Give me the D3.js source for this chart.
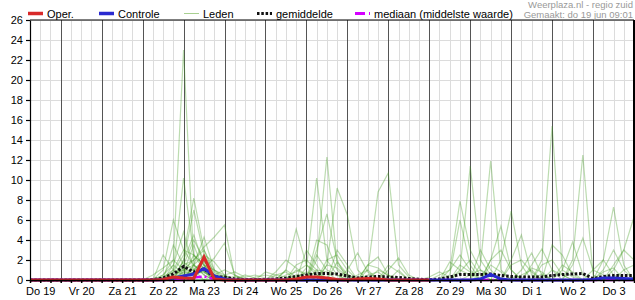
<!DOCTYPE html>
<html>
<head>
<meta charset="utf-8">
<script src="https://cdn.jsdelivr.net/npm/d3@7"></script>
<style>
body { margin: 0; background: #fff; }
svg { display: block; font-family: "Liberation Sans", Arial, sans-serif; }
</style>
</head>
<body>
<svg id="chart" width="635" height="300"></svg>
<script>
// time axis: 6-hourly values, first value Do 19 jun 06:00
const startTime = Date.UTC(2025, 5, 19, 6)
const endTime = Date.UTC(2025, 6, 4, 0)
const stepHours = 6

const dayLabels = ['Do 19', 'Vr 20', 'Za 21', 'Zo 22', 'Ma 23', 'Di 24', 'Wo 25', 'Do 26',
  'Vr 27', 'Za 28', 'Zo 29', 'Ma 30', 'Di 1', 'Wo 2', 'Do 3']
const yTicks = [0, 2, 4, 6, 8, 10, 12, 14, 16, 18, 20, 22, 24, 26]

// operational run (10 days only)
const oper = [0,0,0,0,0,0,0,0,0,0,0,0,0,0.05,0.3,0.2,0.15,2.3,0.1,0,0,0,0,0,0,0,0.1,0.3,0.3,0.2,0.05,0,0.1,0.15,0.1,0,0,0,0,0]
const controle = [0,0,0,0,0,0,0,0,0,0,0,0,0,0.05,0.2,0.4,0.6,1.15,0.4,0.1,0,0,0,0,0,0,0,0,0,0,0,0,0,0,0,0,0,0,0,0,0,0,0,0,0.1,0.55,0.1,0,0,0,0,0,0,0,0,0.05,0.2,0.2,0.15,0.1]
const gemiddelde = [0,0,0,0,0,0,0,0,0,0,0,0,0.05,0.2,0.6,1.35,0.8,1.1,0.3,0.3,0.1,0.05,0.05,0.05,0.1,0.2,0.35,0.5,0.65,0.65,0.6,0.4,0.2,0.3,0.35,0.3,0.25,0.15,0.08,0.03,0.1,0.3,0.55,0.55,0.55,0.6,0.45,0.35,0.3,0.3,0.3,0.45,0.55,0.6,0.65,0.15,0.35,0.45,0.45,0.45]
const mediaan = [0,0,0,0,0,0,0,0,0,0,0,0,0,0,0,0,0.25,0.35,0.1,0,0,0,0,0,0,0,0,0,0,0,0,0,0,0,0,0,0,0,0,0,0,0,0,0,0,0,0,0,0,0,0,0,0,0,0,0,0,0,0,0]

// ensemble members
const lid01 = [0,0,0,0,0,0,0,0,0,0,0,0, 0,0.5,2,23,1.5,0.8,0.2,0,0,0, 0,0,0,0,0.3,0.8,0.5,0.2,0,0,0,0,0,0,0,0,0, 0,0,0,0.8,2,0.5,0,0,0,0,0,0,1,0.5,0,0,0,0,0,0,0]
const lid02 = [0,0,0,0,0,0,0,0,0,0,0,0, 0,0.3,1,10.2,2.5,1.5,0.3,0,0,0, 0,0,0,0,0,1.2,10.2,2,0.5,0,0,0,0,0,0,0,0, 0,0,0,0,0,0,1.5,0.8,0,0,0,0.6,0,0,0,0,0,0,0,0,0]
const lid03 = [0,0,0,0,0,0,0,0,0,0,0,0, 0,0,0.8,2.5,8.2,3,0.5,0,0,0, 0,0,0,0,0,0,2,12.3,1.5,0.5,0,0,0,0,0,0,0, 0,0,0,0,0,0,0,0,0,0,0,2,15.4,1,0.3,0,0,0,0,0,0]
const lid04 = [0,0,0,0,0,0,0,0,0,0,0,0, 0,0,0,1,2,3.3,4.3,5.5,0.3,0, 0,0,0,0,0,0,0,1.5,9.2,6.5,1,0,0,0,0,0,0, 0,0,0,0,0,0,0,0,0,0,0,0,0,0,0,0,0,0.8,1.2,0,0]
const lid05 = [0,0,0,0,0,0,0,0,0,0,0,0, 0,0,1.5,4.8,1,2,0.3,0,0,0, 0,0,0,0,0,0,0,0,0,0,0,0.5,0.8,0,0,0,0, 0,0,0,1,11.4,2,0.5,0,0,0,0,0,0,0,0,0,0,0,0,0,0]
const lid06 = [0,0,0,0,0,0,0,0,0,0,0,0, 0,0,0,2,7,2.5,0.8,0,0,0, 0,0,0,1,5.1,1.5,0.5,0,0,0,0,0,0,0,0,0,0, 0,0,0,0,0,1.5,11.9,1,0,0,0,0,0,0,0,0,0,0,0,0,0]
const lid07 = [0,0,0,0,0,0,0,0,0,0,0,0, 0,0,0,0,1.5,4.3,1,0.3,0,0, 0,0,0,0,0,0,0,0,0,0,0,1,8.8,10.7,1.5,0.3,0, 0,0,0,0,0,0,0,0,0,0,0,0,0,0,2,12.5,0.5,0,0,0,0]
const lid08 = [0,0,0,0,0,0,0,0,0,0,0,0, 0,1,6,3,1.5,0.5,0,0,0,0, 0,0,0,0,0,0,3,6.6,2,0,0,0,0,0,0,0,0, 0,0,1,7.9,3,1,0,0,0,0,0,0,0,0,0,0,0,0,0,0,0]
const lid09 = [0,0,0,0,0,0,0,0,0,0,0,0, 0,0,3.5,1.5,4,2,0.5,0,0,0, 0,0,0,0,0,0,4,3.5,1,0,0,0,0,0,0,0,0, 0,0,0,0,0,0,0,2,6.9,1.5,0,0,0,0,0,0,0,0,0,0,0]
const lid10 = [0,0,0,0,0,0,0,0,0,0,0,0, 0,2.5,1,3,2.5,1.5,1,0.5,0,0, 0,0,0,0,0,0,0,0,0,1,2.7,0.8,0,0,0,0,0, 0,0,0,0,0,0,0,0,0,0,0,0,0,0,0,0,0,2,7.3,1.5,0]
const lid11 = [0,0,0,0,0,0,0,0,0,0,0,0, 0,0,0,1.5,2,3,1,0,0,0, 0,0,0.8,2,1.2,0.5,0,0,0,0,0,0,0,0,0,0,0, 0,0,0,0,0,0,0,0,0,0,0,0,0,0,0,0,0,0,1,3,6.3]
const lid12 = [0,0,0,0,0,0,0,0,0,0,0,0, 0.5,1.2,2,1,0.5,0,0,0,0,0, 0,0,0,0,0,0,0,0,0,0,0,0,0,1,2.2,0.5,0, 0,0,0.5,6,1.5,0,0,0,0,0,0,0,0,0,0,0,0,0,0,0,0]
const lid13 = [0,0,0,0,0,0,0,0,0,0,0,0, 0,0,0,0,1.5,2.5,1.8,0.5,0,0, 0,0,0,0,0,0,0,0,0,0,0,1.5,2.3,0.5,0,0,0, 0,0,0,0,0,0,2,5.4,1,0,0,0,0,0,0,0,0,0,0,0,0]
const lid14 = [0,0,0,0,0,0,0,0,0,0,0,0, 0,0,0.5,1,1,1.2,2.2,3.7,0.5,0, 0,0,0,0,1.5,2,1,0,0,0,0,0,0,0,0,0,0, 0,0,0,0,0,0,0,0,2,4.5,0.5,0,0,0,0,0,0,0,0,0,0]
const lid15 = [0,0,0,0,0,0,0,0,0,0,0,0, 0,0,0,2,4.5,1.5,0,0,0,0, 0,0,0,0,0,0,0,0,3,1.5,0,0,0,0,0,0,0, 0,0,0,0,0,0,0,0,0,0,0,0,0,1,3.8,0.5,0,0,0,0,0]
const lid16 = [0,0,0,0,0,0,0,0,0,0,0,0, 0,0.3,0.8,1,1.5,0.5,0,0,0,0, 0.3,0.5,0.3,0,1,0.5,0,0,0,0,0,0,0,0,0,0,0, 0,0,0,0,0,0,0,0,0,0,0,0,0,0,1.5,4.2,1,0.5,0,0,0]
const lid17 = [0,0,0,0,0,0,0,0,0,0,0,0, 0,0,0,0.5,0.8,1.8,0.5,0,0,0, 0,0,0,0,0,0,2.5,1,0.5,0,0,0,0,0,0,0,0, 0,0,0,0,0,0,0,0,0,1,2.7,0.5,0,0,0,0,0,0,0,0,0]
const lid18 = [0,0,0,0,0,0,0,0,0,0,0,0, 0,0,0,0,0.5,1,0.3,0,0,0, 0,0,0,0,0,0,0,0,0,0,0,0,0,1.5,0.8,0,0, 0,0,0,0,0,0,0,0,0,0,1.5,3.1,1,0,0,0,0,0,0,0,0]
const lid19 = [0,0,0,0,0,0,0,0,0,0,0,0, 0,0,1,0.5,2.5,1,0,0,0,0, 0,0.8,0.5,0.8,0,0,0,0,0,0,0,0,0,0,0,0,0, 0,0,0,0,0,0,0,0,0,0,0,0,0,0,0,0,0,0,1.5,3,2]
const lid20 = [0,0,0,0,0,0,0,0,0,0,0,0, 0,0,0,0,0,1.5,0.5,1,0.5,0, 0,0,0,0,0,3,1.5,0,0,0,0,0,0,0,0,0,0, 0,0,1.8,1,0.5,0,0,0,0,0,0,0,0,0,0,0,0,0,0,0,0]
const lid21 = [0,0,0,0,0,0,0,0,0,0,0,0, 0,0.2,0.5,1.8,1,2,0.3,0,0,0, 0,0,0,0,0,0,0,2,2.5,1,0,0,0,0,0,0,0, 0,0,0,0,0,3,1,0,0,0,0,0,0,0,0,0,0,0,0,0,0]
const lid22 = [0,0,0,0,0,0,0,0,0,0,0,0, 0,0,0,0.8,0.5,1,0,0,0,0, 0,0,0,0.5,0.8,1.5,0.8,0,0,0,0.5,1,0,0,0,0,0, 0,0,0,0,0.5,1,0.5,0,0,0,0,1.5,2,0.5,0,0,0,0,0,0,0]
const lid23 = [0,0,0,0,0,0,0,0,0,0,0,0, 0,0,0,0.8,3.5,0.8,0,0,0,0, 0,0,0,0,0,0,0,1.5,1.2,0.3,0,0,0,0,1,0,0, 0,0,0,0,0,0,0,0,1.5,2,0.8,0,0,0,0,0,1,2,0.5,0,0]
const lid24 = [0,0,0,0,0,0,0,0,0,0,0,0, 0,0,0,0,0,0,0.5,0.3,0,0.5, 0.2,0,0,0,0.5,0.3,0,0,0,0,0,0,1,0.5,0,0,0, 0,0.5,1,2.5,1,0,0,0,0,0,0,0,0,1.5,0.8,0,0,0,0,0,0]
const lid25 = [0,0,0,0,0,0,0,0,0,0,0,0, 0,0,0.3,1.2,0.6,0.8,0,0,0,0, 0,0,0,0,0,0,0,0,1.8,0.6,0,0,0,0,0,0,0, 0,0,0,0,0,0,2,3,1,0,0,0,0,0,0,0,0,0,0,1,1.5]
const lid26 = [0,0,0,0,0,0,0,0,0,0,0,0, 0,0,0,0,0,0,0,0,0.4,0.2, 0,0,0.5,0.3,0,0,1,0.8,0,0,0,0,0,0,0,0,0, 0,0,0,1.5,0.8,0,0,0,0,0,0,0,3.5,2.5,0.5,0,0,0,0,0,0]
const lid27 = [0,0,0,0,0,0,0,0,0,0,0,0, 0,0.5,1.5,0.6,1,0,0,0,0,0, 0,0,0,0,0,0,0,0,0,0,0,1.5,1.2,0.4,0,0,0, 0,0,0,0,0,0,0,0,0,0,1.2,0.8,0,0,0,0,0,1,3,1,0]
const lid28 = [0,0,0,0,0,0,0,0,0,0,0,0, 0,0,0,0,0,0,0,0.5,0.8,0.3, 0.5,0.2,0,1,0.3,0,0,0,0,0,0,0,0,0,0,0,0, 0.3,0.8,0.3,0,0,0,0,0,0,0.5,1,0,0,0,0,0,0,0,0,0,0]

const leden = [lid01, lid02, lid03, lid04, lid05, lid06, lid07, lid08, lid09, lid10, lid11, lid12, lid13, lid14,
  lid15, lid16, lid17, lid18, lid19, lid20, lid21, lid22, lid23, lid24, lid25, lid26, lid27, lid28]

const plotLeft = 30
const plotRight = 634
const plotTop = 20
const plotBottom = 280

const svg = d3.select('#chart')

const xScale = d3.scaleUtc()
  .domain([new Date(startTime), new Date(endTime)])
  .range([plotLeft, plotRight])

const yScale = d3.scaleLinear()
  .domain([0, 26])
  .range([plotBottom, plotTop])

const toPoints = arr => arr.map((v, i) => [new Date(startTime + i * stepHours * 3600e3), v])

const sixHours = d3.utcHour.every(6).range(new Date(startTime), new Date(endTime + 1))
const midnights = d3.utcDay.range(new Date(startTime), new Date(endTime))
const noons = dayLabels.map((d, i) => new Date(Date.UTC(2025, 5, 19 + i, 12)))

// light grid
svg.append('g')
  .attr('class', 'grid-x')
  .attr('transform', 'translate(0,' + plotBottom + ')')
  .call(d3.axisBottom(xScale).tickValues(sixHours).tickSize(-(plotBottom - plotTop)).tickFormat(''))
  .call(g => g.select('.domain').remove())
  .call(g => g.selectAll('line').attr('stroke', '#dcdcdc').attr('shape-rendering', 'crispEdges'))

svg.append('g')
  .attr('class', 'grid-y')
  .attr('transform', 'translate(' + plotLeft + ',0)')
  .call(d3.axisLeft(yScale).tickValues(yTicks.slice(1)).tickSize(-(plotRight - plotLeft)).tickFormat(''))
  .call(g => g.select('.domain').remove())
  .call(g => g.selectAll('line').attr('stroke', '#dcdcdc').attr('shape-rendering', 'crispEdges'))

// day separators
svg.append('g')
  .attr('class', 'grid-day')
  .attr('transform', 'translate(0,' + plotBottom + ')')
  .call(d3.axisBottom(xScale).tickValues(midnights).tickSize(-(plotBottom - plotTop)).tickFormat(''))
  .call(g => g.select('.domain').remove())
  .call(g => g.selectAll('line').attr('stroke', '#555').attr('shape-rendering', 'crispEdges'))

// series
const lineFn = d3.line()
  .x(d => xScale(d[0]))
  .y(d => yScale(d[1]))

svg.append('g')
  .attr('class', 'leden')
  .selectAll('path')
  .data(leden)
  .join('path')
  .attr('d', d => lineFn(toPoints(d)))
  .attr('fill', 'none')
  .attr('stroke', '#3f9a1c')
  .attr('stroke-opacity', 0.35)
  .attr('stroke-width', 1.2)

svg.append('path')
  .attr('d', lineFn(toPoints(gemiddelde)))
  .attr('fill', 'none')
  .attr('stroke', '#111')
  .attr('stroke-width', 3)
  .attr('stroke-dasharray', '2.5,1.8')

svg.append('path')
  .attr('d', lineFn(toPoints(mediaan)))
  .attr('fill', 'none')
  .attr('stroke', '#d400ff')
  .attr('stroke-width', 2.5)
  .attr('stroke-dasharray', '10,3,2,3')

svg.append('path')
  .attr('d', lineFn(toPoints(controle)))
  .attr('fill', 'none')
  .attr('stroke', '#2a2ad0')
  .attr('stroke-width', 3)

svg.append('path')
  .attr('d', lineFn(toPoints(oper)))
  .attr('fill', 'none')
  .attr('stroke', '#d82a2a')
  .attr('stroke-width', 3)

// axes
svg.append('g')
  .attr('class', 'y-axis')
  .attr('transform', 'translate(' + plotLeft + ',0)')
  .call(d3.axisLeft(yScale).tickValues(yTicks).tickSize(4).tickPadding(3).tickSizeOuter(0))
  .call(g => g.selectAll('text').attr('font-size', 11).attr('fill', '#000').attr('font-family', null))
  .call(g => g.selectAll('line, path').attr('stroke', '#000').attr('stroke-width', 1.2))

svg.append('g')
  .attr('class', 'x-ticks')
  .attr('transform', 'translate(0,' + plotBottom + ')')
  .call(d3.axisBottom(xScale).tickValues(sixHours).tickSize(3).tickSizeOuter(0).tickFormat(''))
  .call(g => g.selectAll('line, path').attr('stroke', '#000').attr('stroke-width', 1.5))

svg.append('g')
  .attr('class', 'x-axis')
  .attr('transform', 'translate(0,' + plotBottom + ')')
  .call(d3.axisBottom(xScale).tickValues(noons).tickSize(0).tickPadding(7).tickFormat((d, i) => dayLabels[i]))
  .call(g => g.select('.domain').remove())
  .call(g => g.selectAll('text').attr('font-size', 11).attr('fill', '#000').attr('font-family', null))

// frame top and right
svg.append('line')
  .attr('x1', plotLeft).attr('x2', plotRight).attr('y1', plotTop).attr('y2', plotTop)
  .attr('stroke', '#000').attr('stroke-width', 1.2)
svg.append('line')
  .attr('x1', plotRight).attr('x2', plotRight).attr('y1', plotTop).attr('y2', plotBottom)
  .attr('stroke', '#000').attr('stroke-width', 2)

// legend
const legend = [
  { label: 'Oper.', x: 28, color: '#d82a2a', width: 3.5 },
  { label: 'Controle', x: 99, color: '#2a2ad0', width: 3.5 },
  { label: 'Leden', x: 184, color: '#a8d090', width: 1 },
  { label: 'gemiddelde', x: 257, color: '#111', width: 3, dash: '2.5,1.8' },
  { label: 'mediaan (middelste waarde)', x: 355, color: '#d400ff', width: 3, dash: '10,4,1,4' }
]
const lg = svg.append('g').attr('class', 'legend')
legend.forEach(item => {
  lg.append('line')
    .attr('x1', item.x).attr('x2', item.x + 15)
    .attr('y1', 13.5).attr('y2', 13.5)
    .attr('stroke', item.color)
    .attr('stroke-width', item.width)
    .attr('stroke-dasharray', item.dash || null)
  lg.append('text')
    .attr('x', item.x + 19).attr('y', 17.5)
    .attr('font-size', 11)
    .text(item.label)
})

svg.append('text')
  .attr('x', 633).attr('y', 8)
  .attr('text-anchor', 'end').attr('font-size', 9.5).attr('fill', '#999')
  .text('Weerplaza.nl - regio zuid')
svg.append('text')
  .attr('x', 633).attr('y', 18)
  .attr('text-anchor', 'end').attr('font-size', 9.5).attr('fill', '#999')
  .text('Gemaakt: do 19 jun 09:01')
</script>
</body>
</html>
